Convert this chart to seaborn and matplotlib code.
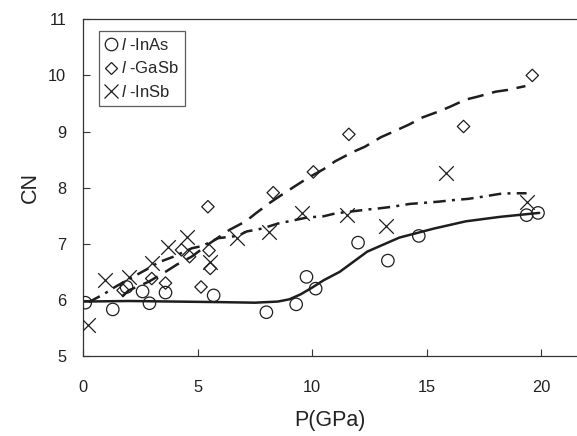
import matplotlib
matplotlib.use("Agg")
import pandas as pd
import seaborn as sns
import matplotlib.pyplot as plt
from matplotlib.lines import Line2D

# --- puntos medidos ---
inas_p = [0.1, 1.3, 1.9, 2.6, 2.9, 3.6, 5.7, 8.0, 9.3, 9.75, 10.15, 12.0, 13.3, 14.65, 19.35, 19.85]
inas_cn = [5.95, 5.83, 6.23, 6.15, 5.94, 6.13, 6.08, 5.78, 5.92, 6.41, 6.20, 7.02, 6.70, 7.14, 7.51, 7.55]

gasb_p = [1.75, 3.0, 3.6, 4.3, 4.65, 5.15, 5.45, 5.5, 5.55, 8.3, 10.05, 11.6, 16.6, 19.6]
gasb_cn = [6.17, 6.38, 6.30, 6.89, 6.77, 6.23, 7.66, 6.88, 6.56, 7.91, 8.28, 8.95, 9.09, 10.0]

insb_p = [0.2, 0.95, 2.0, 3.0, 3.7, 4.55, 5.55, 6.7, 8.1, 9.55, 11.5, 13.2, 15.85, 19.35]
insb_cn = [5.55, 6.36, 6.41, 6.65, 6.94, 7.12, 6.68, 7.10, 7.21, 7.54, 7.51, 7.32, 8.27, 7.75]

# --- curvas de ajuste ---
inas_fit_p = [0, 2, 4, 6, 7.5, 8.5, 9.0, 9.5, 10.0, 10.5, 11.2, 12.4, 13.8, 15.3, 16.7, 18.2, 19.9]
inas_fit_cn = [5.97, 5.98, 5.97, 5.96, 5.95, 5.97, 6.01, 6.10, 6.22, 6.35, 6.50, 6.86, 7.11, 7.27, 7.40, 7.48, 7.55]

gasb_fit_p = [1.7, 2.0, 2.85, 3.6, 4.1, 4.74, 5.5, 6.4, 7.1, 7.5, 8.15, 8.7, 9.3, 9.8, 10.5, 11.0,
              11.8, 12.3, 13.0, 13.5, 14.25, 14.8, 15.6, 16.0, 16.7, 17.2, 18.0, 18.5, 19.3]
gasb_fit_cn = [6.06, 6.17, 6.32, 6.50, 6.63, 6.77, 7.00, 7.25, 7.40, 7.53, 7.73, 7.88, 8.04, 8.17, 8.33, 8.47,
               8.64, 8.73, 8.90, 8.99, 9.13, 9.25, 9.37, 9.44, 9.57, 9.62, 9.71, 9.74, 9.81]

insb_fit_p = [0.25, 0.9, 1.4, 2.05, 2.85, 3.3, 3.95, 4.75, 5.2, 5.9, 6.75, 7.15, 7.8, 8.5, 9.1, 9.8,
              10.5, 11.0, 12.4, 12.9, 13.5, 14.25, 14.9, 15.5, 16.2, 16.8, 17.45, 18.2, 18.7, 19.35]
insb_fit_cn = [5.96, 6.10, 6.23, 6.38, 6.56, 6.67, 6.77, 6.92, 6.96, 7.10, 7.14, 7.22, 7.27, 7.36, 7.41, 7.47,
               7.49, 7.54, 7.61, 7.63, 7.66, 7.71, 7.73, 7.75, 7.78, 7.80, 7.84, 7.89, 7.90, 7.90]

labels = [r"$\mathit{l}$ -InAs", r"$\mathit{l}$ -GaSb", r"$\mathit{l}$ -InSb"]

sns.set_theme(style="ticks")
plt.rcParams["font.family"] = ["Liberation Sans", "DejaVu Sans"]
plt.rcParams["mathtext.fontset"] = "custom"
plt.rcParams["mathtext.it"] = "Liberation Sans:italic"
plt.rcParams["mathtext.rm"] = "Liberation Sans"

fig = plt.figure(figsize=(5.77, 4.36), dpi=100)
ax = fig.add_axes([0.1438, 0.1835, 0.8562, 0.7722])

ink = "#1e1e1e"

# curvas
sns.lineplot(x=inas_fit_p, y=inas_fit_cn, ax=ax, color=ink, linewidth=1.8, estimator=None, sort=False)
sns.lineplot(x=gasb_fit_p, y=gasb_fit_cn, ax=ax, color=ink, linewidth=1.8, estimator=None, sort=False,
             dashes=False).lines[-1].set_dashes((6.5, 3.5))
sns.lineplot(x=insb_fit_p, y=insb_fit_cn, ax=ax, color=ink, linewidth=1.8, estimator=None, sort=False,
             dashes=False).lines[-1].set_dashes((5, 2.5, 1.2, 2.5))

# puntos
sns.scatterplot(x=inas_p, y=inas_cn, ax=ax, marker="o", s=80, facecolor="none",
                edgecolor=ink, linewidth=0.9, zorder=3)
sns.scatterplot(x=gasb_p, y=gasb_cn, ax=ax, marker="D", s=40, facecolor="none",
                edgecolor=ink, linewidth=0.9, zorder=3)
sns.scatterplot(x=insb_p, y=insb_cn, ax=ax, marker="x", s=110, color=ink,
                linewidth=0.9, zorder=3)

ax.set_xlim(0, 21.55)
ax.set_ylim(5, 11)
ax.set_xticks([0, 5, 10, 15, 20])
ax.set_yticks([5, 6, 7, 8, 9, 10, 11])
ax.tick_params(direction="in", length=5, width=0.8, colors="#333333", labelsize=11.8,
               labelcolor="#222222")
ax.tick_params(axis="x", pad=17)
ax.tick_params(axis="y", pad=12)
ax.spines["right"].set_visible(False)
for sp in ["left", "bottom", "top"]:
    ax.spines[sp].set_linewidth(0.9)
    ax.spines[sp].set_color("#333333")

ax.set_xlabel("P(GPa)", fontsize=15.5, labelpad=11, color="#222222")
ax.set_ylabel("CN", fontsize=15.5, labelpad=5, color="#222222")

handles = [
    Line2D([], [], marker="o", linestyle="none", markersize=9, markerfacecolor="none",
           markeredgecolor=ink, markeredgewidth=0.9),
    Line2D([], [], marker="D", linestyle="none", markersize=6.5, markerfacecolor="none",
           markeredgecolor=ink, markeredgewidth=0.9),
    Line2D([], [], marker="x", linestyle="none", markersize=10.5, markeredgecolor=ink,
           markeredgewidth=0.9),
]
leg = ax.legend(handles, labels, loc="upper left", bbox_to_anchor=(0.032, 0.965), fontsize=12,
                frameon=True, fancybox=False, edgecolor="#333333", handlelength=0.8,
                handletextpad=0.2, borderpad=0.35, labelspacing=0.45, borderaxespad=0)
leg.get_frame().set_linewidth(0.9)

fig.savefig("out.png", dpi=100)
